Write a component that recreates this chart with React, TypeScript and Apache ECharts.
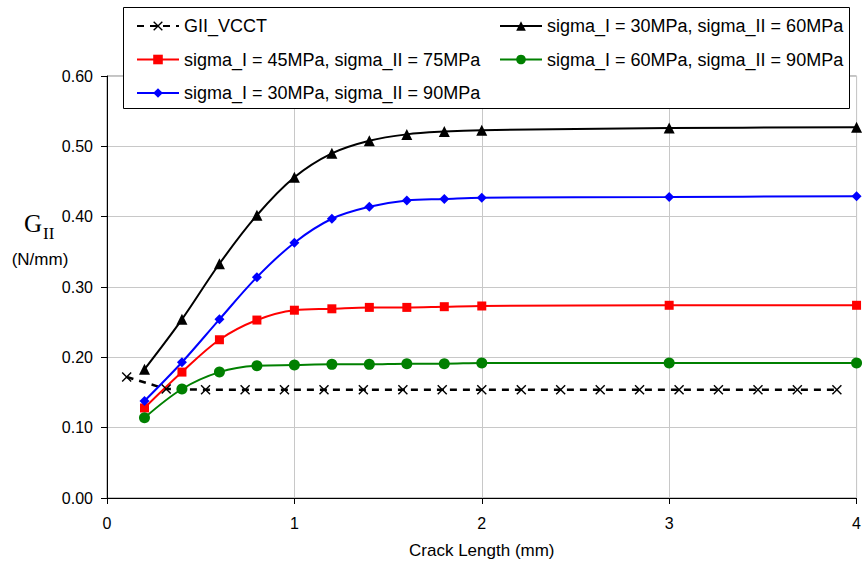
import React, { useEffect, useRef } from "react";
import * as echarts from "echarts";

const crackX = [0.2, 0.4, 0.6, 0.8, 1.0, 1.2, 1.4, 1.6, 1.8, 2.0, 3.0, 4.0];
const s30_60 = [0.183, 0.254, 0.333, 0.402, 0.456, 0.49, 0.508, 0.517, 0.521, 0.523, 0.526, 0.527];
const s45_75 = [0.128, 0.179, 0.225, 0.253, 0.267, 0.269, 0.271, 0.271, 0.272, 0.273, 0.274, 0.274];
const s60_90 = [0.114, 0.155, 0.179, 0.188, 0.189, 0.19, 0.19, 0.191, 0.191, 0.192, 0.192, 0.192];
const s30_90 = [0.138, 0.193, 0.254, 0.314, 0.363, 0.397, 0.414, 0.423, 0.425, 0.427, 0.428, 0.429];

const vcctX = [0.105, 0.316, 0.526, 0.737, 0.947, 1.158, 1.368, 1.579, 1.789, 2.0, 2.211, 2.421, 2.632, 2.842, 3.053, 3.263, 3.474, 3.684, 3.895];
const vcctY = [0.172, 0.155, 0.154, 0.154, 0.154, 0.154, 0.154, 0.154, 0.154, 0.154, 0.154, 0.154, 0.154, 0.154, 0.154, 0.154, 0.154, 0.154, 0.154];

const names = [
  "GII_VCCT",
  "sigma_I = 30MPa, sigma_II = 60MPa",
  "sigma_I = 45MPa, sigma_II = 75MPa",
  "sigma_I = 60MPa, sigma_II = 90MPa",
  "sigma_I = 30MPa, sigma_II = 90MPa",
];

const yTicks = ["0.00", "0.10", "0.20", "0.30", "0.40", "0.50", "0.60"];

const zip = (xs: number[], ys: number[]) => xs.map((x, i) => [x, ys[i]]);

const crossPath =
  "path://M0,1L1,0L5,4L9,0L10,1L6,5L10,9L9,10L5,6L1,10L0,9L4,5Z";

export default function App() {
  const ref = useRef<HTMLDivElement>(null);
  useEffect(() => {
    if (!ref.current) return;
    const chart = echarts.init(ref.current, undefined, { renderer: "svg" });
    const font = "'Liberation Sans', Arial, sans-serif";
    const lineSeries = (name: string, ys: number[], color: string, symbol: string, size: number) => ({
      name,
      type: "line",
      data: zip(crackX, ys),
      smooth: 0.35,
      symbol,
      symbolSize: size,
      showSymbol: true,
      lineStyle: { color, width: 2 },
      itemStyle: { color },
      z: 3,
    });
    chart.setOption({
      animation: false,
      textStyle: { fontFamily: font },
      grid: {
        left: 107,
        right: 4,
        top: 76,
        bottom: 68,
        show: true,
        borderColor: "#888",
        borderWidth: 1,
      },
      xAxis: {
        type: "value",
        min: 0,
        max: 4,
        interval: 1,
        name: "Crack Length (mm)",
        nameLocation: "middle",
        nameGap: 44,
        nameTextStyle: { fontSize: 17, color: "#000", fontFamily: font },
        axisLine: { show: true, lineStyle: { color: "#000", width: 1 } },
        axisTick: { show: true, length: 6, lineStyle: { color: "#000" } },
        axisLabel: { fontSize: 16, color: "#000", margin: 17, fontFamily: font },
        splitLine: { show: true, lineStyle: { color: "#c8c8c8", width: 1 } },
      },
      yAxis: {
        type: "value",
        min: 0,
        max: 0.6,
        interval: 0.1,
        axisLine: { show: true, lineStyle: { color: "#000", width: 1 } },
        axisTick: { show: true, length: 6, lineStyle: { color: "#000" } },
        axisLabel: {
          fontSize: 16,
          color: "#000",
          margin: 14,
          fontFamily: font,
          formatter: (v: number) => yTicks[Math.round(v * 10)] ?? v.toFixed(2),
        },
        splitLine: { show: true, lineStyle: { color: "#c8c8c8", width: 1 } },
      },
      legend: [
        {
          orient: "vertical",
          left: 131,
          top: 11,
          itemWidth: 42,
          itemHeight: 12,
          itemGap: 13.5,
          data: [names[0], names[2], names[4]],
          textStyle: { fontSize: 18, color: "#000", lineHeight: 20, fontFamily: font },
          z: 5,
        },
        {
          orient: "vertical",
          left: 494,
          top: 11,
          itemWidth: 42,
          itemHeight: 12,
          itemGap: 13.5,
          data: [names[1], names[3]],
          textStyle: { fontSize: 18, color: "#000", lineHeight: 20, fontFamily: font },
          z: 5,
        },
      ],
      graphic: [
        {
          type: "rect",
          z: 4,
          shape: { x: 123.5, y: 7.5, width: 726, height: 101 },
          style: { fill: "#fff", stroke: "#000", lineWidth: 1 },
        },
        {
          type: "text",
          x: 24,
          y: 236,
          style: {
            text: "G",
            font: "25px 'Liberation Serif', 'Times New Roman', serif",
            fill: "#000",
            verticalAlign: "bottom",
          },
        },
        {
          type: "text",
          x: 43,
          y: 242,
          style: {
            text: "II",
            font: "17px 'Liberation Serif', 'Times New Roman', serif",
            fill: "#000",
            verticalAlign: "bottom",
          },
        },
        {
          type: "text",
          x: 40,
          y: 259,
          style: {
            text: "(N/mm)",
            font: "17px 'Liberation Sans', Arial, sans-serif",
            fill: "#000",
            align: "center",
            verticalAlign: "middle",
          },
        },
      ],
      series: [
        {
          name: names[0],
          type: "line",
          data: zip(vcctX, vcctY),
          smooth: false,
          symbol: crossPath,
          symbolSize: 10,
          lineStyle: { color: "#000", width: 2.5, type: [7, 6] },
          itemStyle: { color: "#000" },
          z: 3,
        },
        lineSeries(names[1], s30_60, "#000000", "triangle", 11),
        lineSeries(names[2], s45_75, "#ff0000", "rect", 9),
        lineSeries(names[3], s60_90, "#008000", "circle", 11),
        lineSeries(names[4], s30_90, "#0000ff", "diamond", 10),
      ],
    });
    return () => chart.dispose();
  }, []);
  return (
    <div
      ref={ref}
      style={{ position: "fixed", left: 0, top: 0, width: 864, height: 566, background: "#fff" }}
    />
  );
}
